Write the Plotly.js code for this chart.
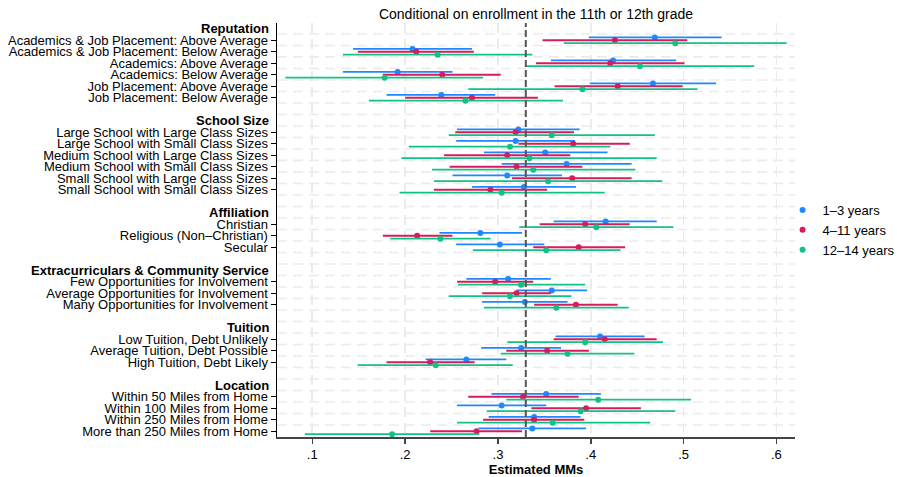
<!DOCTYPE html>
<html>
<head>
<meta charset="utf-8">
<script src="https://cdn.plot.ly/plotly-3.0.1.min.js"></script>
<style>html,body{margin:0;padding:0;background:#fff;}#chart{width:897px;height:477px;}</style>
</head>
<body>
<div id="chart"></div>
<script>
// ---- Data ----
const groups = ["Reputation", "School Size", "Affiliation", "Extracurriculars & Community Service", "Tuition", "Location"];
const levels = [
  ["Academics & Job Placement: Above Average", "Academics & Job Placement: Below Average", "Academics: Above Average", "Academics: Below Average", "Job Placement: Above Average", "Job Placement: Below Average"],
  ["Large School with Large Class Sizes", "Large School with Small Class Sizes", "Medium School with Large Class Sizes", "Medium School with Small Class Sizes", "Small School with Large Class Sizes", "Small School with Small Class Sizes"],
  ["Christian", "Religious (Non\u2013Christian)", "Secular"],
  ["Few Opportunities for Involvement", "Average Opportunities for Involvement", "Many Opportunities for Involvement"],
  ["Low Tuition, Debt Unlikely", "Average Tuition, Debt Possible", "High Tuition, Debt Likely"],
  ["Within 50 Miles from Home", "Within 100 Miles from Home", "Within 250 Miles from Home", "More than 250 Miles from Home"]
];
const seriesNames = ["1\u20133 years", "4\u201311 years", "12\u201314 years"];

const est1 = [0.469,0.208,0.424,0.192,0.467,0.239, 0.322,0.319,0.351,0.374,0.310,0.328, 0.416,0.281,0.302, 0.311,0.358,0.329, 0.410,0.325,0.266, 0.352,0.304,0.339,0.337];
const lo1  = [0.398,0.144,0.357,0.133,0.399,0.180, 0.256,0.255,0.285,0.304,0.251,0.272, 0.360,0.237,0.255, 0.266,0.320,0.283, 0.362,0.282,0.222, 0.293,0.256,0.290,0.279];
const hi1  = [0.541,0.272,0.492,0.251,0.535,0.297, 0.388,0.383,0.418,0.444,0.369,0.384, 0.471,0.326,0.350, 0.357,0.396,0.375, 0.458,0.368,0.309, 0.411,0.352,0.389,0.395];

const est2 = [0.426,0.212,0.421,0.240,0.429,0.272, 0.319,0.381,0.310,0.320,0.380,0.292, 0.394,0.213,0.387, 0.297,0.320,0.384, 0.415,0.353,0.227, 0.327,0.395,0.339,0.277];
const lo2  = [0.348,0.149,0.341,0.176,0.361,0.200, 0.254,0.322,0.242,0.248,0.315,0.231, 0.345,0.176,0.338, 0.256,0.283,0.339, 0.360,0.309,0.180, 0.268,0.336,0.284,0.227];
const hi2  = [0.504,0.274,0.501,0.303,0.499,0.343, 0.382,0.442,0.378,0.391,0.444,0.353, 0.442,0.251,0.437, 0.338,0.357,0.429, 0.471,0.398,0.275, 0.387,0.454,0.393,0.326];

const est3 = [0.491,0.235,0.453,0.178,0.391,0.265, 0.358,0.313,0.334,0.338,0.354,0.304, 0.406,0.238,0.352, 0.325,0.313,0.363, 0.394,0.375,0.233, 0.408,0.389,0.359,0.186];
const lo3  = [0.371,0.133,0.330,0.071,0.268,0.161, 0.247,0.204,0.196,0.229,0.231,0.194, 0.323,0.184,0.273, 0.257,0.247,0.285, 0.310,0.303,0.149, 0.309,0.288,0.256,0.092];
const hi3  = [0.611,0.337,0.576,0.284,0.515,0.370, 0.469,0.421,0.471,0.448,0.477,0.415, 0.489,0.292,0.432, 0.394,0.379,0.441, 0.478,0.447,0.316, 0.508,0.491,0.464,0.280];

const refLine = 0.33;
const xTickVals = [0.1, 0.2, 0.3, 0.4, 0.5, 0.6];
const xTickText = [".1", ".2", ".3", ".4", ".5", ".6"];

// ---- Layout of rows ----
const colors = ["#1E88FF", "#DA1A5E", "#12C284"];
const offsets = [-0.25, 0, 0.25];
const itemRows = [], itemLabels = [], headerRows = [];
let r = 0;
groups.forEach((g, gi) => {
  headerRows.push({row: r, text: g});
  r++;
  levels[gi].forEach(l => { itemRows.push(r); itemLabels.push(l); r++; });
  if (gi < groups.length - 1) r++;
});
const nRows = r;

const ests = [est1, est2, est3], los = [lo1, lo2, lo3], his = [hi1, hi2, hi3];
const traces = ests.map((e, s) => ({
  type: "scatter",
  mode: "markers",
  name: seriesNames[s],
  x: e,
  y: itemRows.map(v => v + offsets[s]),
  marker: {color: colors[s], size: 6},
  error_x: {
    type: "data", symmetric: false,
    array: his[s].map((h, i) => h - e[i]),
    arrayminus: los[s].map((l, i) => e[i] - l),
    width: 0, thickness: 1.8, color: colors[s]
  },
  hoverinfo: "x+name"
}));

const shapes = [];
for (let k = 0; k < nRows - 1; k++) {
  shapes.push({type: "line", layer: "below", xref: "paper", x0: 0, x1: 1, yref: "y", y0: k + 0.45, y1: k + 0.45,
    line: {color: "#ebebeb", width: 1.6, dash: "10px,6px"}});
}
shapes.push({type: "line", layer: "above", xref: "x", x0: refLine, x1: refLine, yref: "paper", y0: 0, y1: 1,
  line: {color: "#555555", width: 2, dash: "7px,3px"}});

const annotations = headerRows.map(h => ({
  xref: "paper", x: 0, xanchor: "right", xshift: -6,
  yref: "y", y: h.row, yanchor: "middle",
  text: "<b>" + h.text + "</b>", showarrow: false,
  font: {size: 13, color: "#000"}
}));

const layout = {
  width: 897, height: 477,
  margin: {l: 277, r: 102, t: 23, b: 40, autoexpand: false},
  paper_bgcolor: "#fff", plot_bgcolor: "#fff",
  font: {family: "Liberation Sans, Arial, sans-serif", size: 13, color: "#000"},
  title: {text: "Conditional on enrollment in the 11th or 12th grade", x: 0.5, xref: "paper", xanchor: "center",
    y: 0.971, yref: "container", yanchor: "middle", font: {size: 14, color: "#000"}},
  xaxis: {
    range: [0.062, 0.62], tickvals: xTickVals, ticktext: xTickText,
    showline: true, linecolor: "#444", linewidth: 1.5, ticks: "outside", ticklen: 5, tickwidth: 1.5, tickcolor: "#444",
    showgrid: true, gridcolor: "#ebebeb", gridwidth: 1.6, griddash: "10px,6px", zeroline: false,
    tickfont: {size: 13}, automargin: false,
    title: {text: "<b>Estimated MMs</b>", standoff: 4, font: {size: 13}}
  },
  yaxis: {
    range: [nRows - 0.5, -0.5], tickvals: itemRows, ticktext: itemLabels,
    showline: true, linecolor: "#000", linewidth: 1.5, ticks: "outside", ticklen: 5, tickwidth: 1.2, tickcolor: "#000",
    showgrid: false, zeroline: false, tickfont: {size: 13}, automargin: false
  },
  legend: {x: 0.976, xanchor: "left", y: 0.5, yanchor: "middle", font: {size: 13}, itemwidth: 30, bgcolor: "rgba(0,0,0,0)"},
  showlegend: true,
  shapes: shapes,
  annotations: annotations
};

Plotly.newPlot("chart", traces, layout, {displayModeBar: false, staticPlot: true});
</script>
</body>
</html>
